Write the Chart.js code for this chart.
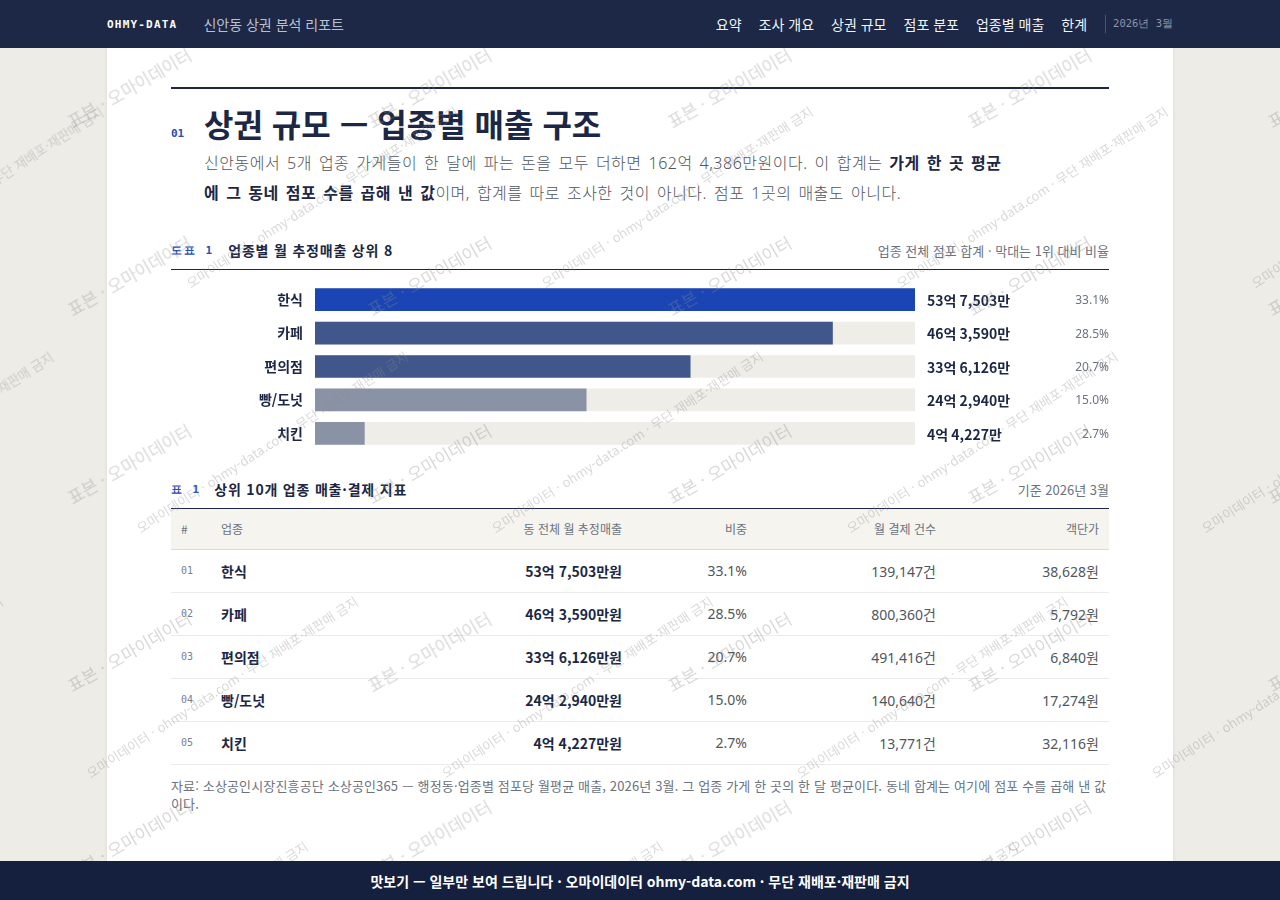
<!DOCTYPE html>
<html lang="ko">
<head>
<meta charset="utf-8">
<title>신안동 상권 분석 리포트</title>
<script src="https://cdn.jsdelivr.net/npm/chart.js@4.4.1/dist/chart.umd.min.js"></script>
<style>
  * { box-sizing: border-box; }
  html, body { margin: 0; padding: 0; }
  body {
    background: #eeece7;
    font-family: "Noto Sans", "Noto Sans CJK KR", sans-serif;
    color: #1b2744;
    width: 1280px;
    height: 900px;
    overflow: hidden;
  }
  .topbar {
    position: fixed; top: 0; left: 0; right: 0; height: 48px;
    background: #1c2845; z-index: 10;
  }
  .topbar .inner {
    width: 1066px; margin: 0 auto; height: 48px;
    display: flex; align-items: center;
  }
  .brand { font-family: "DejaVu Sans Mono", monospace; font-weight: bold; font-size: 11px; letter-spacing: 1.2px; color: #fff; }
  .subtitle { margin-left: 26px; font-size: 14px; color: #b9c0d0; font-family: "Noto Sans CJK KR", sans-serif; }
  .nav { margin-left: auto; display: flex; align-items: center; font-family: "Noto Sans CJK KR", sans-serif; font-size: 14px; color: #f1f3f7; }
  .nav span { margin-left: 17px; }
  .nav .sep { width: 1px; height: 18px; background: #4a5572; margin-left: 18px; }
  .nav .date { font-family: "DejaVu Sans Mono", monospace; font-size: 10.5px; color: #8c95aa; margin-left: 7px; }
  .page {
    position: absolute; top: 48px; left: 107px; width: 1066px; height: 852px;
    background: #fff; box-shadow: 0 0 4px rgba(0,0,0,0.08);
    padding: 39px 64px 0 64px;
  }
  .rule2 { height: 2px; background: #1b2744; }
  .titlerow { display: flex; align-items: baseline; margin-top: 13px; }
  .secno { font-family: "DejaVu Sans Mono", monospace; font-size: 11px; color: #2a4bb8; font-weight: bold; width: 33px; }
  h1 { margin: 0; font-family: "Noto Sans CJK KR", sans-serif; font-size: 32px; font-weight: bold; line-height: 42px; color: #1b2744; }
  .lead { margin: 4px 0 0 33px; max-width: 802px; font-family: "Noto Sans", "Noto Sans CJK KR", sans-serif; font-size: 16px; line-height: 30px; color: #505660; font-weight: 300; letter-spacing: 0.5px; word-spacing: 2.3px; }
  .lead b { color: #1b2744; font-weight: bold; }
  .cap {
    display: flex; align-items: center; height: 20px;
    border-bottom: 1px solid #1b2744; padding-bottom: 9px; box-sizing: content-box;
    font-family: "Noto Sans CJK KR", sans-serif;
  }
  .cap .no { font-family: "DejaVu Sans Mono", monospace; font-size: 11px; color: #2a4bb8; font-weight: bold; letter-spacing: 2px; }
  .cap .t { font-size: 14px; font-weight: bold; color: #1b2744; letter-spacing: 0.8px; }
  .cap .r { margin-left: auto; font-size: 13px; color: #6b7280; }
  .fig { margin-top: 32px; }
  .chartbox { position: relative; width: 938px; height: 167px; margin-top: 13px; }
  .tbl { margin-top: 29px; }
  table { width: 938px; border-collapse: collapse; font-family: "Noto Sans CJK KR", "Noto Sans", sans-serif; }
  thead tr { background: #f5f4ef; height: 40px; }
  th { font-size: 12px; font-weight: normal; color: #6b7280; padding: 0 10px; border-bottom: 1px solid #dcdcd6; }
  td { font-size: 14px; height: 43px; padding: 0 10px; border-bottom: 1px solid #ecebe7; color: #505660; }
  .l { text-align: left; } .rr { text-align: right; }
  td.num { font-family: "DejaVu Sans Mono", monospace; font-size: 10px; color: #7a8090; }
  td.name, td.rev { font-weight: bold; color: #1b2744; }
  td.plain { font-family: "Noto Sans", "Noto Sans CJK KR", sans-serif; }
  .note { margin-top: 12px; font-family: "Noto Sans CJK KR", sans-serif; font-size: 13px; line-height: 18px; color: #6b7280; letter-spacing: 0.15px; }
  .wm { position: fixed; inset: 0; z-index: 5; pointer-events: none; overflow: hidden; }
  .wm span {
    position: absolute; white-space: nowrap; transform-origin: 0 100%;
    font-family: "Noto Sans CJK KR", sans-serif; color: rgba(140,140,140,0.33);
  }
  .wm .a { font-size: 17px; transform: rotate(-30deg); }
  .wm .b { font-size: 13px; transform: rotate(-33deg); }
  .foot {
    position: fixed; left: 0; right: 0; bottom: 0; height: 39px; z-index: 10;
    background: #15203f; color: #fff; display: flex; align-items: center; justify-content: center;
    font-family: "Noto Sans CJK KR", sans-serif; font-size: 14px; font-weight: bold;
  }
</style>
</head>
<body>
<div class="topbar"><div class="inner">
  <span class="brand">OHMY-DATA</span>
  <span class="subtitle">신안동 상권 분석 리포트</span>
  <div class="nav">
    <span>요약</span><span>조사 개요</span><span>상권 규모</span><span>점포 분포</span><span>업종별 매출</span><span>한계</span>
    <i class="sep"></i><span class="date">2026년 3월</span>
  </div>
</div></div>

<div class="page">
  <div class="rule2"></div>
  <div class="titlerow"><span class="secno">01</span><h1>상권 규모 — 업종별 매출 구조</h1></div>
  <p class="lead">신안동에서 5개 업종 가게들이 한 달에 파는 돈을 모두 더하면 162억 4,386만원이다. 이 합계는 <b>가게 한 곳 평균에 그 동네 점포 수를 곱해 낸 값</b>이며, 합계를 따로 조사한 것이 아니다. 점포 1곳의 매출도 아니다.</p>

  <div class="fig">
    <div class="cap"><span class="no">도표 1</span><span class="t" style="margin-left:14px">업종별 월 추정매출 상위 8</span><span class="r">업종 전체 점포 합계 · 막대는 1위 대비 비율</span></div>
    <div class="chartbox"><canvas id="bars"></canvas></div>
  </div>

  <div class="tbl">
    <div class="cap"><span class="no">표 1</span><span class="t" style="margin-left:13px">상위 10개 업종 매출·결제 지표</span><span class="r">기준 2026년 3월</span></div>
    <table>
      <colgroup><col style="width:40px"><col style="width:201px"><col style="width:220px"><col style="width:125px"><col style="width:189px"><col style="width:163px"></colgroup>
      <thead><tr><th class="l">#</th><th class="l">업종</th><th class="rr">동 전체 월 추정매출</th><th class="rr">비중</th><th class="rr">월 결제 건수</th><th class="rr">객단가</th></tr></thead>
      <tbody id="rows"></tbody>
    </table>
    <div class="note">자료: 소상공인시장진흥공단 소상공인365 — 행정동·업종별 점포당 월평균 매출, 2026년 3월. 그 업종 가게 한 곳의 한 달 평균이다. 동네 합계는 여기에 점포 수를 곱해 낸 값이다.</div>
  </div>
</div>

<div class="wm" id="wm"></div>
<div class="foot">맛보기 — 일부만 보여 드립니다 · 오마이데이터 ohmy-data.com · 무단 재배포·재판매 금지</div>

<script>
// 업종별 월 추정매출 (단위: 만원)
const categories = ['한식', '카페', '편의점', '빵/도넛', '치킨'];
const sales = [537503, 463590, 336126, 242940, 44227];
const shares = [33.1, 28.5, 20.7, 15.0, 2.7];
const payments = [139147, 800360, 491416, 140640, 13771];
const unitPrice = [38628, 5792, 6840, 17274, 32116];
const barColors = ['#1b45b4', '#41578c', '#41578c', '#8a93a6', '#8a93a6'];

const fmtEok = v => Math.floor(v / 10000) + '억 ' + (v % 10000).toLocaleString('en-US') + '만';
const maxSales = Math.max(...sales);

// 막대 오른쪽 금액 / 비중 라벨
const sideLabels = {
  id: 'sideLabels',
  afterDatasetsDraw(chart) {
    const { ctx, chartArea } = chart;
    const meta = chart.getDatasetMeta(1);
    ctx.save();
    ctx.textBaseline = 'middle';
    meta.data.forEach((bar, i) => {
      ctx.font = 'bold 14px "Noto Sans CJK KR", sans-serif';
      ctx.fillStyle = '#1b2744';
      ctx.textAlign = 'left';
      ctx.fillText(fmtEok(sales[i]), chartArea.right + 12, bar.y + 1);
      ctx.font = '12px "Noto Sans", sans-serif';
      ctx.fillStyle = '#6b7280';
      ctx.textAlign = 'right';
      ctx.fillText(shares[i].toFixed(1) + '%', chart.width, bar.y + 1);
    });
    ctx.restore();
  }
};

new Chart(document.getElementById('bars'), {
  type: 'bar',
  data: {
    labels: categories,
    datasets: [
      { data: categories.map(() => maxSales), backgroundColor: '#efede8', grouped: false, order: 2, barThickness: 22 },
      { data: sales, backgroundColor: barColors, grouped: false, order: 1, barThickness: 22 }
    ]
  },
  options: {
    indexAxis: 'y',
    responsive: true,
    maintainAspectRatio: false,
    animation: false,
    layout: { padding: { right: 194, top: 0, bottom: 0, left: 0 } },
    plugins: { legend: { display: false }, tooltip: { enabled: false } },
    scales: {
      x: { display: false, min: 0, max: maxSales },
      y: {
        grid: { display: false, drawTicks: false },
        border: { display: false },
        ticks: { color: '#1b2744', padding: 12, font: { family: '"Noto Sans CJK KR", sans-serif', size: 14, weight: 'bold' } },
        afterFit(scale) {
          scale.width = 144;
          scale.paddingTop = 0;
          scale.paddingBottom = 0;
        }
      }
    }
  },
  plugins: [sideLabels]
});

// 표 1
const tbody = document.getElementById('rows');
categories.forEach((c, i) => {
  const tr = document.createElement('tr');
  tr.innerHTML =
    '<td class="num">' + String(i + 1).padStart(2, '0') + '</td>' +
    '<td class="name">' + c + '</td>' +
    '<td class="rev rr">' + fmtEok(sales[i]) + '원</td>' +
    '<td class="plain rr">' + shares[i].toFixed(1) + '%</td>' +
    '<td class="plain rr">' + payments[i].toLocaleString('en-US') + '건</td>' +
    '<td class="plain rr">' + unitPrice[i].toLocaleString('en-US') + '원</td>';
  tbody.appendChild(tr);
});

// 워터마크
const wm = document.getElementById('wm');
function mark(cls, text, x, y) {
  const s = document.createElement('span');
  s.className = cls;
  s.textContent = text;
  s.style.left = x + 'px';
  s.style.top = (y - 20) + 'px';
  wm.appendChild(s);
}
for (let j = -1; j < 6; j++) {
  for (let i = -1; i < 5; i++) {
    mark('a', '표본 · 오마이데이터', 75 + 300 * i, 128 + 188 * j);
  }
}
for (let k = -1; k < 6; k++) {
  for (let i = -2; i < 5; i++) {
    mark('b', '오마이데이터 · ohmy-data.com · 무단 재배포·재판매 금지', 93 + 355 * i + 50 * k, 783 - 245 * k);
  }
}
</script>
</body>
</html>
